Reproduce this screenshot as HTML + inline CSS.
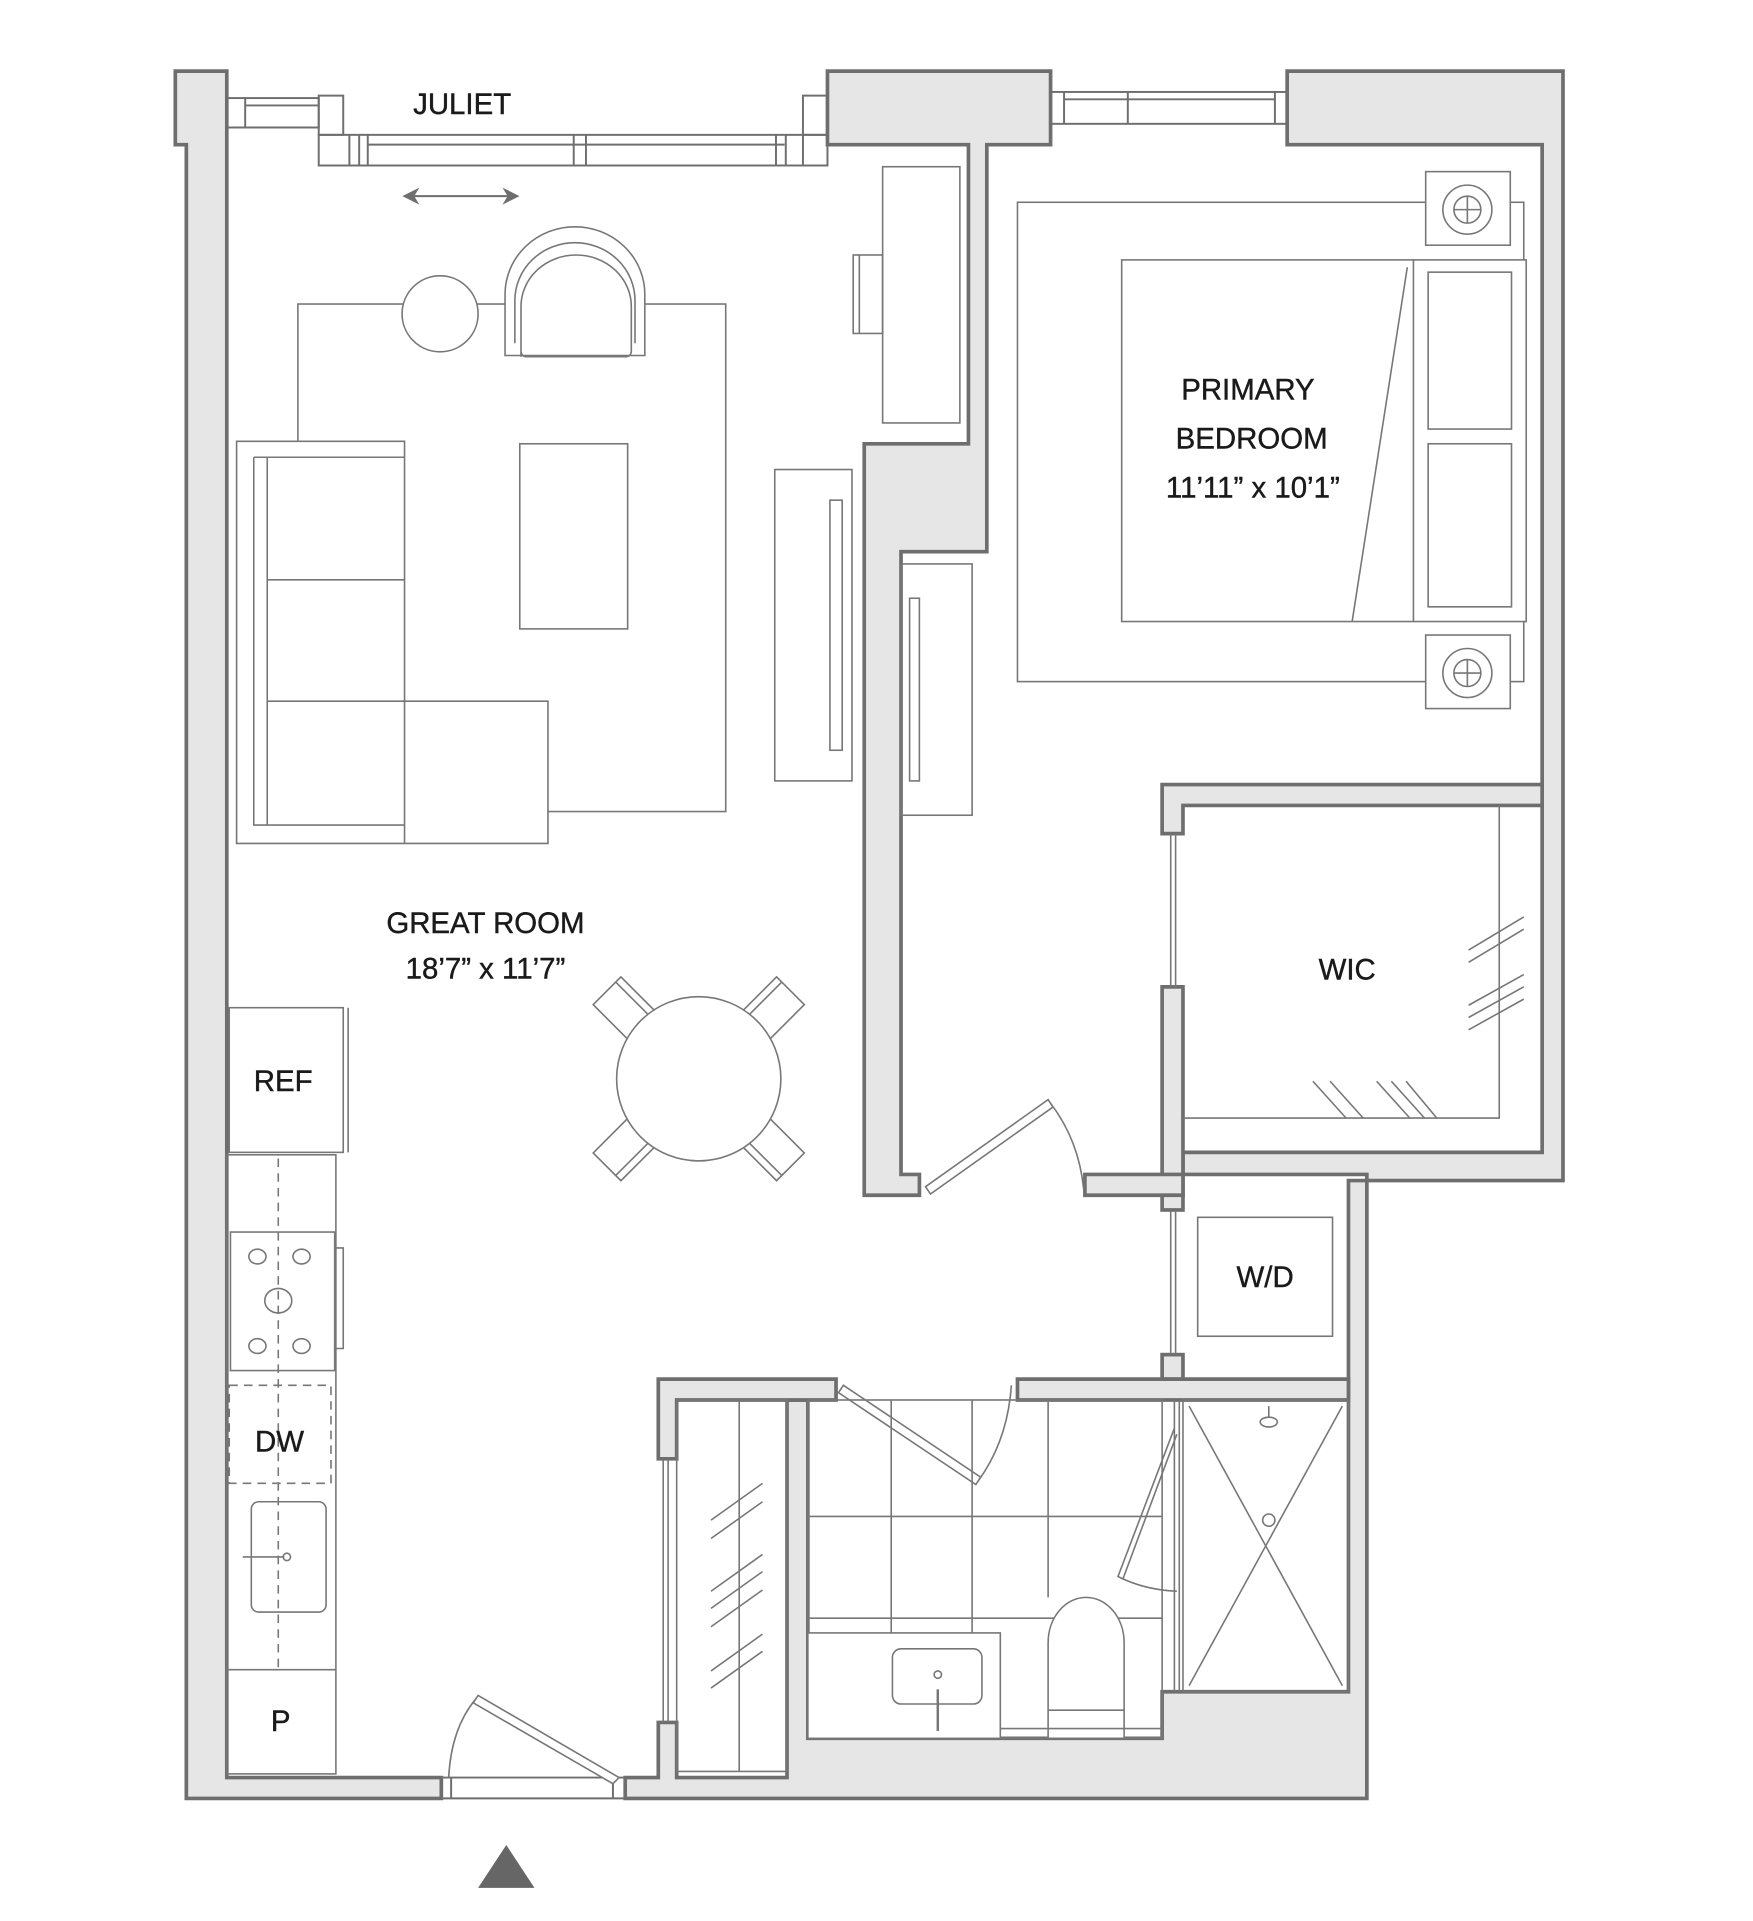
<!DOCTYPE html>
<html><head><meta charset="utf-8"><style>
html,body{margin:0;padding:0;background:#fff;}
svg{display:block;}
text{font-family:"Liberation Sans",sans-serif;fill:#1a1a1a;text-anchor:middle;stroke:#1a1a1a;stroke-width:0.35;}
</style></head><body>
<svg width="1753" height="1921" viewBox="0 0 1430 1567" preserveAspectRatio="none" xmlns="http://www.w3.org/2000/svg">
<g fill="#e6e6e6" stroke="#6e6e6e" stroke-width="3">
<path d="M143,58 H185 V1450 H360 V1467 H152 V118 H143 Z"/>
<path d="M510,1450 H537 V1405 H552 V1450 H642 V1142 H659 V1418 H948 V1380 H1100 V963 H1115 V1467 H510 Z"/>
<path d="M675,58 H857 V118 H805 V450 H735 V958 H750 V975 H705 V362 H790 V118 H675 Z"/>
<path d="M1050,58 H1275 V963 H1115 V958 H965 V940 H1258 V118 H1050 Z"/>
<path d="M948,640 H1258 V657 H965 V680 H948 Z"/>
<path d="M948,805 H965 V975 H948 Z"/>
<path d="M885,958 H965 V975 H885 Z"/>
<rect x="948" y="975" width="17" height="12"/>
<rect x="948" y="1105" width="17" height="20"/>
<path d="M830,1125 H1100 V1142 H830 Z"/>
<path d="M537,1125 H682 V1142 H552 V1190 H537 Z"/>
</g>
<g fill="none" stroke="#6e6e6e" stroke-width="1.6">
<rect x="185" y="80" width="75" height="24"/><line x1="200" y1="80" x2="200" y2="104"/><line x1="200" y1="86" x2="260" y2="86"/>
<rect x="260" y="78" width="20" height="32"/>
<rect x="260" y="110" width="415" height="25"/><line x1="300" y1="118" x2="640" y2="118"/>
<line x1="285" y1="110" x2="285" y2="135"/><line x1="293" y1="110" x2="293" y2="135"/><line x1="300" y1="110" x2="300" y2="135"/>
<line x1="468" y1="110" x2="468" y2="135"/><line x1="478" y1="110" x2="478" y2="135"/>
<line x1="633" y1="110" x2="633" y2="135"/><line x1="641" y1="110" x2="641" y2="135"/><line x1="655" y1="110" x2="655" y2="135"/>
<rect x="655" y="78" width="20" height="32"/>
<line x1="332" y1="160" x2="420" y2="160"/>
<path d="M330,160 l10,-5 l-3,5 l3,5 z M422,160 l-10,-5 l3,5 l-3,5 z" fill="#6e6e6e"/>
<rect x="857" y="75" width="193" height="26"/><line x1="868" y1="75" x2="868" y2="101"/><line x1="920" y1="75" x2="920" y2="101"/><line x1="1040" y1="75" x2="1040" y2="101"/><line x1="868" y1="81" x2="1040" y2="81"/>
<line x1="360" y1="1450" x2="510" y2="1450"/><line x1="360" y1="1467" x2="510" y2="1467"/>
<line x1="368" y1="1450" x2="368" y2="1467"/><line x1="500" y1="1450" x2="500" y2="1467"/>
</g>
<g fill="none" stroke="#777" stroke-width="1.3">
<path d="M505,1450 L390,1383 L386,1389 L500,1455 Z" fill="#fff"/>
<path d="M388,1386 Q368,1410 366,1450"/>
<path d="M755,968 L855,897 L859,903 L759,974 Z" fill="#fff"/>
<path d="M857,900 Q880,930 884,970"/>
<path d="M688,1130 L800,1205 L796,1211 L684,1136 Z" fill="#fff"/>
<path d="M798,1208 Q822,1175 825,1130"/>
<line x1="955" y1="680" x2="955" y2="805"/><line x1="959" y1="680" x2="959" y2="805"/>
<line x1="955" y1="987" x2="955" y2="1105"/><line x1="959" y1="987" x2="959" y2="1105"/>
<line x1="541" y1="1190" x2="541" y2="1405"/><line x1="545" y1="1190" x2="545" y2="1405"/>
<rect x="243" y="248" width="349" height="414"/>
<circle cx="359" cy="256" r="31" fill="#fff"/>
<path d="M412,290 V240 A57,55 0 0 1 526,240 V290 Z" fill="#fff"/>
<path d="M420,280 V245 A49,47 0 0 1 518,245 V280"/>
<path d="M425,291 V250 A45,42 0 0 1 515,250 V286 Q515,291 510,291 H430 Q425,291 425,286"/>
<path d="M193,360 H330 V572 H447 V688 H193 Z" fill="#fff"/>
<path d="M207,373 H330 M207,373 V673 H330 M218,373 V673 M218,473 H330 M218,572 H330 M330,572 V688"/>
<rect x="424" y="362" width="88" height="151"/>
<rect x="632" y="383" width="63" height="254"/><rect x="677" y="408" width="10" height="204"/>
<rect x="720" y="136" width="63" height="209"/><rect x="696" y="208" width="24" height="64"/><line x1="701" y1="208" x2="701" y2="272"/>
<g fill="#fff">
<g transform="translate(515,828) rotate(45)"><rect x="-28" y="-16" width="56" height="32"/><line x1="-28" y1="-10" x2="28" y2="-10"/></g>
<g transform="translate(625,828) rotate(-45)"><rect x="-28" y="-16" width="56" height="32"/><line x1="-28" y1="-10" x2="28" y2="-10"/></g>
<g transform="translate(515,932) rotate(-45)"><rect x="-28" y="-16" width="56" height="32"/><line x1="-28" y1="10" x2="28" y2="10"/></g>
<g transform="translate(625,932) rotate(45)"><rect x="-28" y="-16" width="56" height="32"/><line x1="-28" y1="10" x2="28" y2="10"/></g>
<circle cx="570" cy="880" r="67"/>
</g>
<rect x="830" y="165" width="413" height="391"/>
<rect x="915" y="212" width="330" height="295" fill="#fff"/>
<line x1="1153" y1="212" x2="1153" y2="507"/>
<rect x="1165" y="222" width="68" height="128"/><rect x="1165" y="362" width="68" height="133"/>
<line x1="1148" y1="218" x2="1103" y2="507"/>
<rect x="1163" y="140" width="69" height="60" fill="#fff"/><circle cx="1197" cy="171" r="20"/><circle cx="1197" cy="171" r="11"/><path d="M1186,171 H1208 M1197,160 V182"/>
<rect x="1163" y="518" width="69" height="60" fill="#fff"/><circle cx="1197" cy="549" r="20"/><circle cx="1197" cy="549" r="11"/><path d="M1186,549 H1208 M1197,538 V560"/>
<rect x="735" y="460" width="58" height="205"/><rect x="742" y="488" width="8" height="149"/>
<path d="M965,912 H1223 V657"/>
<path d="M1198,775 L1243,748 M1198,785 L1243,758 M1198,820 L1243,795 M1198,830 L1243,805 M1198,840 L1243,815"/>
<path d="M1071,882 L1098,912 M1085,882 L1112,912 M1123,882 L1150,912 M1135,882 L1162,912 M1147,882 L1172,912"/>
<rect x="977" y="993" width="110" height="97"/>
<rect x="187" y="822" width="93" height="118"/><line x1="284" y1="822" x2="284" y2="940"/>
<rect x="185" y="942" width="89" height="505"/>
<rect x="188" y="1005" width="85" height="113" fill="#fff"/>
<path d="M273,1018 H280 V1100 H273"/>
<ellipse cx="210" cy="1025" rx="7" ry="6"/><ellipse cx="246" cy="1025" rx="7" ry="6"/><ellipse cx="227" cy="1061" rx="11" ry="10"/><ellipse cx="210" cy="1098" rx="7" ry="6"/><ellipse cx="246" cy="1098" rx="7" ry="6"/>
<rect x="187" y="1130" width="83" height="80" stroke-dasharray="7,5"/>
<line x1="227" y1="945" x2="227" y2="1360" stroke-dasharray="7,5"/>
<rect x="205" y="1225" width="61" height="90" rx="6" fill="none"/>
<line x1="198" y1="1270" x2="232" y2="1270"/><circle cx="234" cy="1270" r="3"/>
<line x1="185" y1="1362" x2="274" y2="1362"/>
<rect x="552" y="1142" width="90" height="303"/><line x1="603" y1="1142" x2="603" y2="1445"/>
<path d="M580,1240 L622,1210 M580,1255 L622,1225 M580,1298 L622,1268 M580,1312 L622,1282 M580,1327 L622,1297 M580,1363 L622,1333 M580,1377 L622,1347"/>
<rect x="659" y="1142" width="289" height="276"/>
<path d="M727,1142 V1332 M793,1142 V1332 M855,1142 V1303 M659,1237 H948 M659,1320 H948"/>
<rect x="659" y="1332" width="157" height="86" fill="#fff"/>
<rect x="728" y="1345" width="73" height="45" rx="7"/><circle cx="765" cy="1366" r="3"/><line x1="765" y1="1378" x2="765" y2="1412" stroke-width="2"/>
<path d="M855,1418 V1340 A31,37 0 0 1 917,1340 V1418 Z" fill="#fff"/><line x1="855" y1="1395" x2="917" y2="1395"/>
<line x1="816" y1="1410" x2="948" y2="1410"/>
<rect x="965" y="1142" width="135" height="238"/>
<path d="M970,1147 L1095,1375 M1095,1147 L970,1375"/>
<circle cx="1035" cy="1240" r="5" fill="#fff"/>
<line x1="1035" y1="1147" x2="1035" y2="1156"/><ellipse cx="1035" cy="1160" rx="7" ry="4" fill="#fff"/>
<line x1="958" y1="1142" x2="958" y2="1380"/><line x1="962" y1="1142" x2="962" y2="1380"/>
<path d="M958,1165 L912,1286 L916,1288 L960,1170 M914,1287 Q935,1297 960,1298"/>
</g>
<g font-size="24">
<text x="377" y="93">JULIET</text>
<text x="396" y="761">GREAT ROOM</text>
<text x="396" y="798">18’7” x 11’7”</text>
<text x="1018" y="326">PRIMARY</text>
<text x="1021" y="366">BEDROOM</text>
<text x="1022" y="406">11’11” x 10’1”</text>
<text x="1099" y="799">WIC</text>
<text x="231" y="890">REF</text>
<text x="1032" y="1050">W/D</text>
<text x="228" y="1184">DW</text>
<text x="229" y="1412">P</text>
</g>
<path d="M390,1540 L413,1505 L436,1540 Z" fill="#666"/>
</svg>
</body></html>
